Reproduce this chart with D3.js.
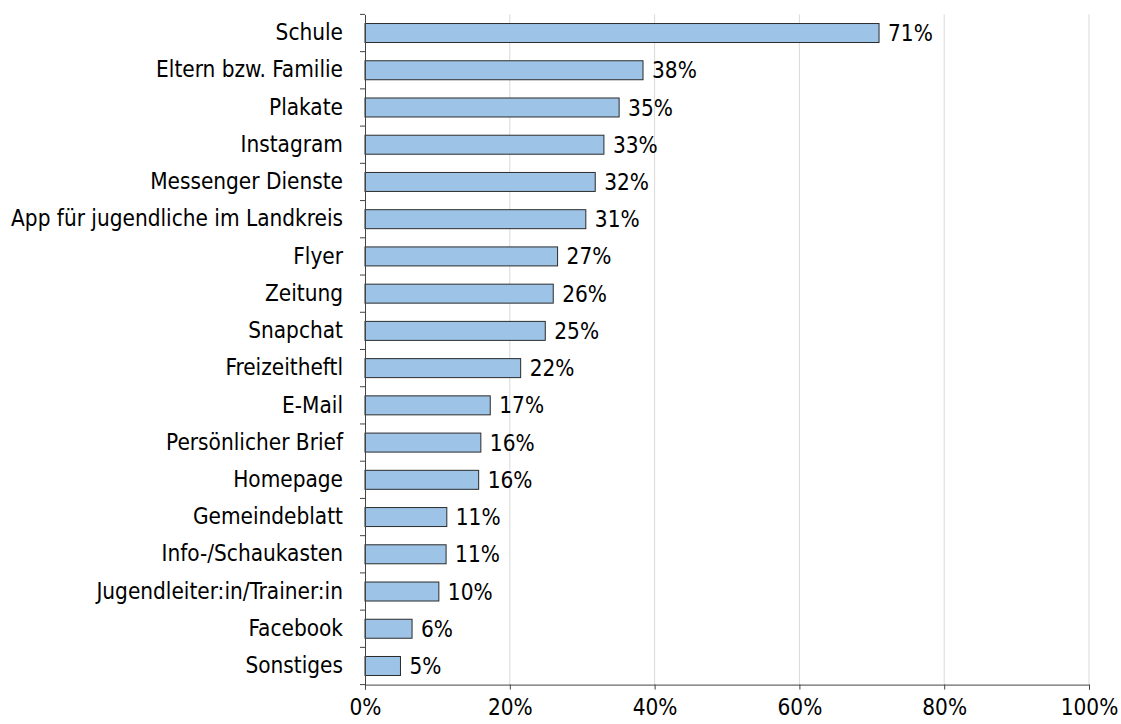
<!DOCTYPE html>
<html><head><meta charset="utf-8">
<script src="https://cdn.jsdelivr.net/npm/d3@7"></script>
<style>
body{margin:0;background:#fff;}
svg text{font-family:"DejaVu Sans Condensed","DejaVu Sans",sans-serif;fill:#000;}
</style></head>
<body>
<svg id="chart" width="1121" height="724"></svg>
<script>
const categories = ["Schule","Eltern bzw. Familie","Plakate","Instagram","Messenger Dienste","App für jugendliche im Landkreis","Flyer","Zeitung","Snapchat","Freizeitheftl","E-Mail","Persönlicher Brief","Homepage","Gemeindeblatt","Info-/Schaukasten","Jugendleiter:in/Trainer:in","Facebook","Sonstiges"];
const values = [71.0,38.4,35.1,33.0,31.8,30.5,26.6,26.0,24.9,21.5,17.3,16.0,15.7,11.3,11.2,10.2,6.5,4.9];
const valueLabels = ["71%","38%","35%","33%","32%","31%","27%","26%","25%","22%","17%","16%","16%","11%","11%","10%","6%","5%"];
const xTicks = [0,20,40,60,80,100];

const svg = d3.select("#chart");
const m = {left:365, right:1089, top:14.4, bottom:684.6};
const x = d3.scaleLinear().domain([0,100]).range([m.left,m.right]);
const y = d3.scaleBand().domain(categories).range([m.top,m.bottom]).paddingInner(0.49).paddingOuter(0.245);
const fs = 22.4;
const ff = "DejaVu Sans Condensed, DejaVu Sans, sans-serif";

// gridlines
svg.append("g").selectAll("line").data(xTicks.filter(d=>d>0)).join("line")
  .attr("x1",d=>x(d)).attr("x2",d=>x(d)).attr("y1",m.top).attr("y2",m.bottom)
  .attr("stroke","#d9d9d9").attr("stroke-width",1);

// bars
svg.append("g").selectAll("rect").data(values).join("rect")
  .attr("x",x(0)).attr("y",(d,i)=>y(categories[i]))
  .attr("width",d=>x(d)-x(0)).attr("height",y.bandwidth())
  .attr("fill","#9dc3e6").attr("stroke","#2b2b2b").attr("stroke-width",1);

// value labels
svg.append("g").selectAll("text").data(values).join("text")
  .attr("x",d=>x(d)+9).attr("y",(d,i)=>y(categories[i])+y.bandwidth()/2)
  .attr("dy","0.36em").attr("font-size",fs).text((d,i)=>valueLabels[i]);

// y axis
const yAxis = svg.append("g").attr("transform",`translate(${m.left},0)`)
  .call(d3.axisLeft(y).tickSize(0).tickPadding(22));
yAxis.select(".domain").attr("stroke","#444");
yAxis.selectAll("text").attr("font-size",fs).attr("font-family",ff).attr("fill","#000");
// y ticks at band boundaries
const bounds = categories.map(c=>y(c)-y.step()*y.paddingInner()/2).concat([m.bottom]);
bounds[0]=m.top;
svg.append("g").selectAll("line").data(bounds).join("line")
  .attr("x1",m.left-5).attr("x2",m.left).attr("y1",d=>d).attr("y2",d=>d)
  .attr("stroke","#444");

// x axis
const xAxis = svg.append("g").attr("transform",`translate(0,${m.bottom})`)
  .call(d3.axisBottom(x).tickValues(xTicks).tickSize(5).tickPadding(10).tickFormat(d=>d+"%"));
xAxis.select(".domain").attr("stroke","#444");
xAxis.selectAll("line").attr("stroke","#444");
xAxis.selectAll("text").attr("font-size",fs).attr("font-family",ff).attr("fill","#000");
</script>
</body></html>
